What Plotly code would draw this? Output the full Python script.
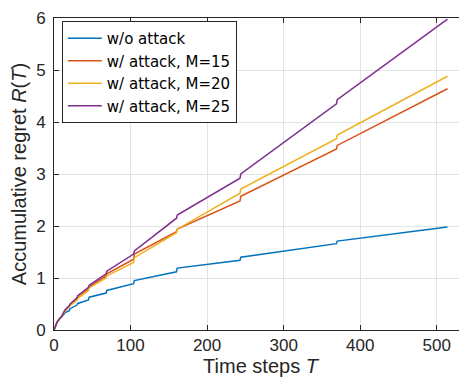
import plotly.graph_objects as go

# Time steps shared by all series (points just before / after each epoch jump)
T = [0, 1, 2, 4, 7, 10, 13, 14, 20, 21, 30, 31, 45, 46, 68, 69, 104, 105,
     160, 161, 243, 244, 369, 370, 514]

regret_no_attack = [0, 0.05, 0.09, 0.15, 0.21, 0.25, 0.30, 0.33, 0.37, 0.41,
                    0.48, 0.51, 0.58, 0.63, 0.71, 0.76, 0.89, 0.95, 1.12, 1.19,
                    1.34, 1.40, 1.66, 1.71, 1.98]
regret_m15 = [0, 0.05, 0.09, 0.15, 0.21, 0.26, 0.34, 0.36, 0.45, 0.48,
              0.59, 0.62, 0.79, 0.83, 1.04, 1.08, 1.36, 1.46, 1.89, 1.94,
              2.48, 2.57, 3.48, 3.55, 4.64]
regret_m20 = [0, 0.05, 0.09, 0.15, 0.21, 0.26, 0.33, 0.35, 0.44, 0.47,
              0.57, 0.61, 0.76, 0.81, 1.00, 1.04, 1.30, 1.39, 1.87, 1.94,
              2.63, 2.71, 3.68, 3.75, 4.88]
regret_m25 = [0, 0.05, 0.09, 0.15, 0.21, 0.26, 0.35, 0.38, 0.47, 0.50,
              0.62, 0.66, 0.82, 0.86, 1.08, 1.13, 1.46, 1.52, 2.15, 2.21,
              2.92, 3.00, 4.35, 4.43, 5.98]

names = ["w/o attack", "w/ attack, M=15", "w/ attack, M=20", "w/ attack, M=25"]
colors = ["#0072BD", "#D95319", "#EDB120", "#7E2F8E"]
series = [regret_no_attack, regret_m15, regret_m20, regret_m25]

x_ticks = [0, 100, 200, 300, 400, 500]
y_ticks = [0, 1, 2, 3, 4, 5, 6]

FONT = "Liberation Sans, Arial, Helvetica, sans-serif"
AX = "#262626"

fig = go.Figure()
for name, col, ys in zip(names, colors, series):
    fig.add_trace(go.Scatter(x=T, y=ys, mode="lines", name=name,
                             line=dict(color=col, width=1.5)))

# page body has an 8px margin; margins compensate so the axes land where the reference has them
fig.update_layout(
    width=467, height=392,
    margin=dict(l=46, r=8, t=10, b=70, autoexpand=False),
    paper_bgcolor="white", plot_bgcolor="white",
    font=dict(family=FONT, color=AX),
    showlegend=True,
    legend=dict(x=0.019, y=0.99, xanchor="left", yanchor="top",
                bgcolor="white", bordercolor=AX, borderwidth=1,
                font=dict(size=15, family="DejaVu Sans, sans-serif", color="black"),
                itemwidth=34, tracegroupgap=0),
)
fig.update_xaxes(
    range=[0, 539.5], tickvals=x_ticks, ticktext=[str(v) for v in x_ticks],
    showgrid=True, gridcolor="#e3e3e3", gridwidth=1, zeroline=False,
    showline=True, linecolor=AX, linewidth=1, mirror="ticks",
    ticks="inside", ticklen=5, tickcolor=AX, automargin=False,
    ticklabeloverflow="allow",
    tickfont=dict(size=17, family=FONT, color=AX),
    title=dict(text="Time steps <i>T</i>", font=dict(size=20, family=FONT, color=AX), standoff=4),
)
fig.update_yaxes(
    range=[0, 6], tickvals=y_ticks, ticktext=[str(v) for v in y_ticks],
    showgrid=True, gridcolor="#e3e3e3", gridwidth=1, zeroline=False,
    showline=True, linecolor=AX, linewidth=1, mirror=False,
    ticks="inside", ticklen=5, tickcolor=AX, automargin=False,
    ticklabelstandoff=4, ticklabeloverflow="allow",
    tickfont=dict(size=17, family=FONT, color=AX),
    title=dict(text="Accumulative regret <i>R</i>(<i>T</i>)", font=dict(size=20, family=FONT, color=AX), standoff=4),
)

fig.write_html("out.html")
